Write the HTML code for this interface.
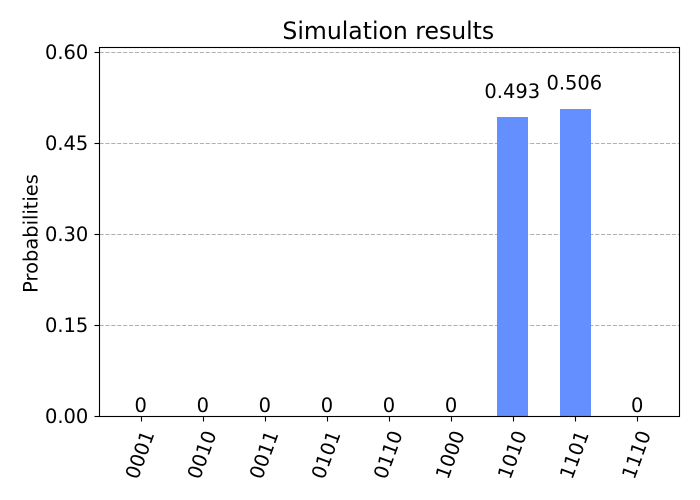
<!DOCTYPE html>
<html>
<head>
<meta charset="utf-8">
<style>
html,body{margin:0;padding:0;background:#fff;}
svg{display:block;}
text{font-family:"DejaVu Sans",sans-serif;fill:#000;}
</style>
</head>
<body>
<svg id="chart" xmlns="http://www.w3.org/2000/svg" width="700" height="500" viewBox="0 0 700 500">
<rect x="0" y="0" width="700" height="500" fill="#fff"/>
<text x="388.3" y="39" font-size="23.55" text-anchor="middle">Simulation results</text>
<text transform="translate(37.5,233.5) rotate(-90)" font-size="19.44" text-anchor="middle">Probabilities</text>
</svg>
<script>
const categories = ['0001','0010','0011','0101','0110','1000','1010','1101','1110'];
const probabilities = [0,0,0,0,0,0,0.493,0.506,0];
const valueLabels = ['0','0','0','0','0','0','0.493','0.506','0'];
const yTicks = [0,0.15,0.30,0.45,0.60];
const yTickLabels = ['0.00','0.15','0.30','0.45','0.60'];

const NS = 'http://www.w3.org/2000/svg';
const svg = document.getElementById('chart');
const plot = {left:99.5,right:679.5,top:47.5,bottom:416.5};
const zeroY = 416;
function xScale(i){ return 141.3 + i * 62.06; }
function yScale(v){ return zeroY - v * 606.67; }
function mk(tag, attrs, parent){
  const el = document.createElementNS(NS, tag);
  for (const k in attrs) el.setAttribute(k, attrs[k]);
  (parent || svg).appendChild(el);
  return el;
}
yTicks.forEach(function(t, i){
  const y = Math.round(yScale(t)) + 0.5;
  if (t > 0) {
    const g = mk('line', {x1:plot.left,x2:plot.right,y1:y,y2:y,stroke:'#b0b0b0','stroke-width':1.1,'stroke-dasharray':'4.1 1.8'});
    
    
  }
  const m = mk('line', {x1:plot.left-5,x2:plot.left,y1:y,y2:y,stroke:'#000','stroke-width':1.1});
  
  
  const l = mk('text', {x:plot.left-11.2,y:yScale(t)+7,'font-size':19.44,'text-anchor':'end'});
  l.textContent = yTickLabels[i];
  
  
});
const barWidth = 31;
categories.forEach(function(c, i){
  const x = xScale(i), v = probabilities[i];
  if (v > 0) {
    const top = Math.round(yScale(v));
    const b = mk('rect', {x:Math.round(x-16.2),y:top,width:barWidth,height:zeroY-top,fill:'#648fff'});
    
    
  }
  const a = mk('text', {x:x-(v > 0 ? 1.4 : 0.6),y:yScale(1.05*v)-4,'font-size':19.44,'text-anchor':'middle'});
  a.textContent = valueLabels[i];
  
  
  const tx = Math.floor(x) + 0.5;
  const m = mk('line', {x1:tx,x2:tx,y1:plot.bottom,y2:plot.bottom+5,stroke:'#000','stroke-width':1.1});
  
  
  const t = mk('text', {'font-size':19.44,'text-anchor':'middle','transform':'translate(' + (x+4.9) + ',457) rotate(-70)'});
  t.textContent = c;
  
  
});
const frame = mk('rect', {x:plot.left,y:plot.top,width:plot.right-plot.left,height:plot.bottom-plot.top,fill:'none',stroke:'#000','stroke-width':1.1});


</script>
</body>
</html>
